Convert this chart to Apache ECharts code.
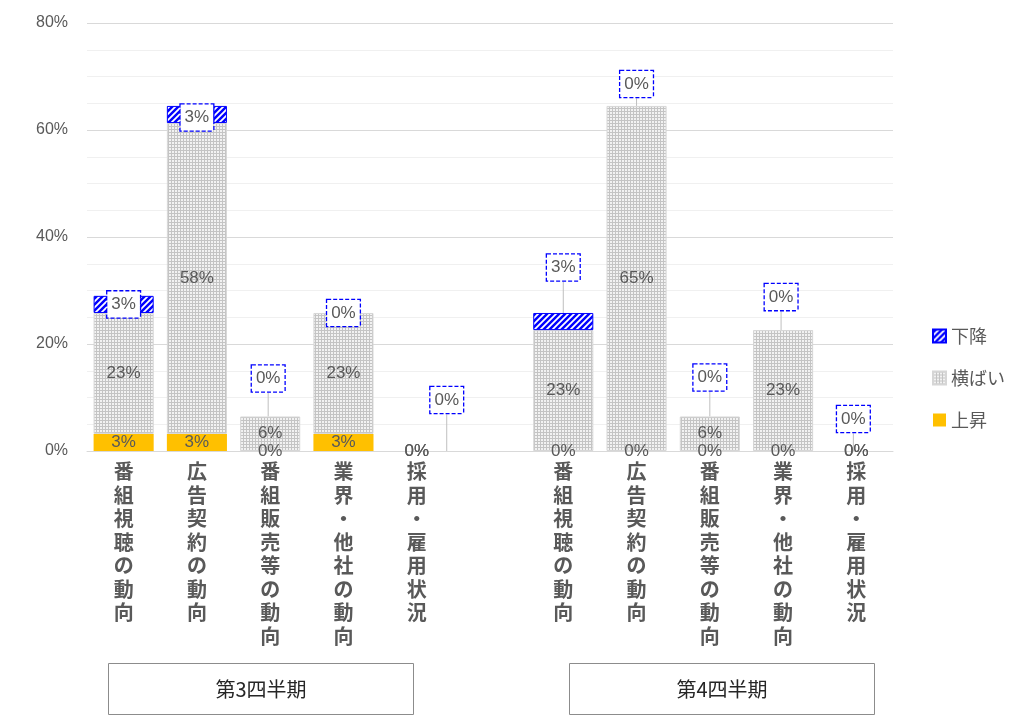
<!DOCTYPE html>
<html>
<head>
<meta charset="utf-8">
<script src="https://cdn.jsdelivr.net/npm/echarts@6/dist/echarts.min.js"></script>
<style>html,body{margin:0;padding:0;background:#fff;}#c{width:1028px;height:718px;}</style>
</head>
<body>
<div id="c"></div>
<script>
// ---- data ----
const categories = ['番組視聴の動向', '広告契約の動向', '番組販売等の動向', '業界・他社の動向', '採用・雇用状況'];
const groupNames = ['第3四半期', '第4四半期'];
const seriesNames = ['上昇', '横ばい', '下降'];
const q3Rise = [3.2, 3.2, 0, 3.2, 0];
const q3Flat = [22.6, 58.1, 6.45, 22.6, 0];
const q3Fall = [3.2, 3.2, 0, 0, 0];
const q4Rise = [0, 0, 0, 0, 0];
const q4Flat = [22.6, 64.5, 6.45, 22.6, 0];
const q4Fall = [3.2, 0, 0, 0, 0];
const yTicks = [0, 20, 40, 60, 80];

// ---- layout (not data) ----
const fallLabelShift = [[0, 0], [0, 3], [-2, -38], [0, 0], [30, -51], [0, 0], [0, -54], [0, -22], [0, -39], [-2, -33], [-3, -32]];

const xCats = categories.concat([''], categories);
const join = (a, b) => a.concat([null], b);
const withBorder = (arr, w) => arr.map(v => v == null ? null : { value: v, itemStyle: { borderWidth: v > 0 ? w : 0 } });
const riseData = join(q3Rise, q4Rise);
const flatData = withBorder(join(q3Flat, q4Flat), 1);
const fallData = withBorder(join(q3Fall, q4Fall), 1);

function makePattern(kind) {
  const c = document.createElement('canvas');
  if (kind === 'hatch') {
    c.width = 6; c.height = 6;
    const g = c.getContext('2d');
    g.fillStyle = '#0000ff'; g.fillRect(0, 0, 6, 6);
    g.strokeStyle = '#ffffff'; g.lineWidth = 1.8;
    g.beginPath();
    g.moveTo(-1, 7); g.lineTo(7, -1);
    g.moveTo(-4, 4); g.lineTo(4, -4);
    g.moveTo(2, 10); g.lineTo(10, 2);
    g.stroke();
  } else {
    c.width = 3; c.height = 3;
    const g = c.getContext('2d');
    g.fillStyle = '#f2f2f2'; g.fillRect(0, 0, 3, 3);
    g.fillStyle = '#c4c4c4';
    g.fillRect(0, 0, 3, 1); g.fillRect(0, 0, 1, 3);
  }
  return { image: c, repeat: 'repeat' };
}

const FONT = "'Liberation Sans', 'Noto Sans CJK JP', sans-serif";
const JP = "'Noto Sans CJK JP', sans-serif";
const pct = v => (v == null ? '' : Math.round(v) + '%');

const chart = echarts.init(document.getElementById('c'), null, { renderer: 'canvas' });
chart.setOption({
  animation: false,
  backgroundColor: '#ffffff',
  textStyle: { fontFamily: FONT },
  grid: { left: 87, right: 135, top: 23, bottom: 267, containLabel: false },
  legend: {
    orient: 'vertical',
    left: 927, top: 322,
    data: ['下降', '横ばい', '上昇'],
    icon: 'rect',
    itemWidth: 13, itemHeight: 13,
    itemGap: 24,
    textStyle: { fontSize: 18, color: '#595959', fontFamily: JP }
  },
  xAxis: {
    type: 'category',
    data: xCats,
    axisTick: { show: false },
    axisLine: { lineStyle: { color: '#d9d9d9' } },
    axisLabel: {
      interval: 0,
      margin: 9,
      fontSize: 20,
      lineHeight: 23.5,
      fontWeight: 'bold',
      color: '#595959',
      fontFamily: JP,
      formatter: v => v.split('').join('\n')
    }
  },
  yAxis: {
    type: 'value',
    min: yTicks[0], max: yTicks[yTicks.length - 1], interval: yTicks[1] - yTicks[0],
    axisLine: { show: false },
    axisTick: { show: false },
    axisLabel: { formatter: '{value}%', fontSize: 16, color: '#595959', margin: 19 },
    splitLine: { lineStyle: { color: '#d9d9d9' } },
    minorTick: { show: false, splitNumber: 4 },
    minorSplitLine: { show: true, lineStyle: { color: '#f0f0f0' } }
  },
  series: [
    {
      name: seriesNames[0], type: 'bar', stack: 's', barWidth: '82%',
      data: riseData,
      itemStyle: { color: '#ffc000' },
      label: { show: true, position: 'inside', formatter: p => pct(p.value), fontSize: 17, color: '#595959' }
    },
    {
      name: seriesNames[1], type: 'bar', stack: 's', barWidth: '82%',
      data: flatData,
      itemStyle: { color: makePattern('dots'), borderColor: '#d6d6d6', borderWidth: 1 },
      label: { show: true, position: 'inside', formatter: p => pct(p.value), fontSize: 17, color: '#595959' }
    },
    {
      name: seriesNames[2], type: 'bar', stack: 's', barWidth: '82%',
      data: fallData,
      itemStyle: { color: makePattern('hatch'), borderColor: '#0000ff', borderWidth: 1 },
      label: {
        show: true, position: 'inside', formatter: p => pct(p.value),
        fontSize: 17, color: '#595959',
        backgroundColor: '#ffffff', borderColor: '#0000ff', borderWidth: 1.3, borderType: [4, 2],
        padding: [5, 4, 4, 4]
      },
      labelLine: { show: true, lineStyle: { color: '#bfbfbf', width: 1 } },
      labelLayout: p => {
        const s = fallLabelShift[p.dataIndex] || [0, 0];
        return { dx: s[0], dy: s[1] };
      }
    }
  ],
  graphic: [
    { type: 'group', left: 108, top: 663, children: [
      { type: 'rect', shape: { x: 0, y: 0, width: 305, height: 51 }, style: { fill: '#fff', stroke: '#8c8c8c', lineWidth: 1 } },
      { type: 'text', x: 152.5, y: 25.5, style: { text: groupNames[0], fontSize: 20, fill: '#262626', align: 'center', verticalAlign: 'middle', fontFamily: JP } }
    ]},
    { type: 'group', left: 569, top: 663, children: [
      { type: 'rect', shape: { x: 0, y: 0, width: 305, height: 51 }, style: { fill: '#fff', stroke: '#8c8c8c', lineWidth: 1 } },
      { type: 'text', x: 152.5, y: 25.5, style: { text: groupNames[1], fontSize: 20, fill: '#262626', align: 'center', verticalAlign: 'middle', fontFamily: JP } }
    ]}
  ]
});
</script>
</body>
</html>
